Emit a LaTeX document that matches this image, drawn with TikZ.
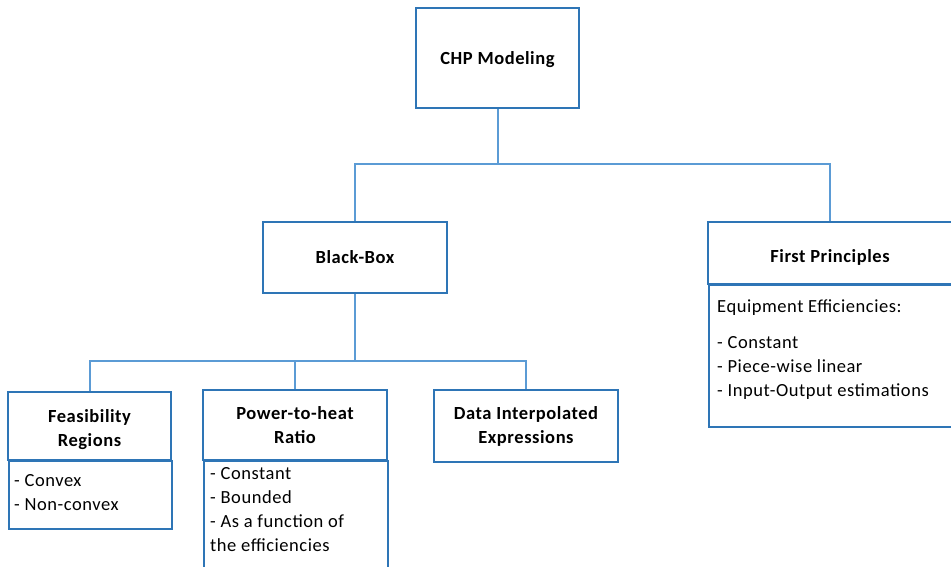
\documentclass[tikz,border=0pt]{standalone}
\usepackage{fontspec}
\setmainfont{Carlito}[LetterSpace=3]
\definecolor{boxblue}{HTML}{2E75B6}
\definecolor{lineblue}{HTML}{5B9BD5}
\begin{document}
\begin{tikzpicture}[x=1pt,y=-1pt,
  box/.style={draw=boxblue, line width=1.8pt, fill=white, inner sep=0pt, align=center,
    font=\fontsize{18.5}{24}\selectfont\bfseries},
  title/.style={inner sep=0pt, align=center, font=\fontsize{18.5}{24}\selectfont\bfseries},
  frame/.style={draw=boxblue, line width=1.8pt, fill=white, inner sep=0pt, anchor=north west},
  body/.style={anchor=north west, align=left, inner sep=0pt, font=\fontsize{18.5}{24}\selectfont},
  link/.style={draw=lineblue, line width=2pt}]
\clip (0,0) rectangle (951,566);
\fill[white] (0,0) rectangle (951,566);

% top level
\node[box, minimum width=163pt, minimum height=100pt, text height=15pt, text depth=2pt] (chp) at (497.5,58) {CHP Modeling};

% second level
\node[box, minimum width=184pt, minimum height=71pt] (bb) at (355,257.5) {Black-Box};
\node[frame, minimum width=244pt, minimum height=142pt] (fpframe) at (708,284) {};
\node[box, minimum width=244pt, minimum height=62pt] (fp) at (830,253) {};
\node[title] (fptext) at (fp.center) [yshift=-4pt] {First Principles};
\node[body] (fpbody) at (717,299) {Equipment Efficiencies:\\[12pt]- Constant\\- Piece-wise linear\\- Input-Output estimations};

% third level
\node[frame, minimum width=163pt, minimum height=68pt] (feasframe) at (8,460) {};
\node[box, minimum width=163pt, minimum height=68pt] (feas) at (89.5,426) {};
\node[title] (feastext) at (feas.center) [yshift=-4pt] {Feasibility\\Regions};
\node[body] (feasbody) at (14,474) {- Convex\\- Non-convex};

\node[frame, minimum width=184pt, minimum height=130pt] (phframe) at (203,460) {};
\node[box, minimum width=184pt, minimum height=70pt] (ph) at (295,425) {Power-to-heat\\Ratio};
\node[body] (phbody) at (210,467) {- Constant\\- Bounded\\- As a function of\\the efficiencies};

\node[box, minimum width=184pt, minimum height=72pt] (data) at (526,426) {Data Interpolated\\Expressions};

% connectors
\draw[link] (chp.south) -- ++(0,55) -| (bb.north);
\draw[link] (chp.south) -- ++(0,55) -| (fp.north);
\draw[link] (bb.south) -- ++(0,67) -| (feas.north);
\draw[link] (bb.south) -- ++(0,67) -| (ph.north);
\draw[link] (bb.south) -- ++(0,67) -| (data.north);
\end{tikzpicture}
\end{document}
